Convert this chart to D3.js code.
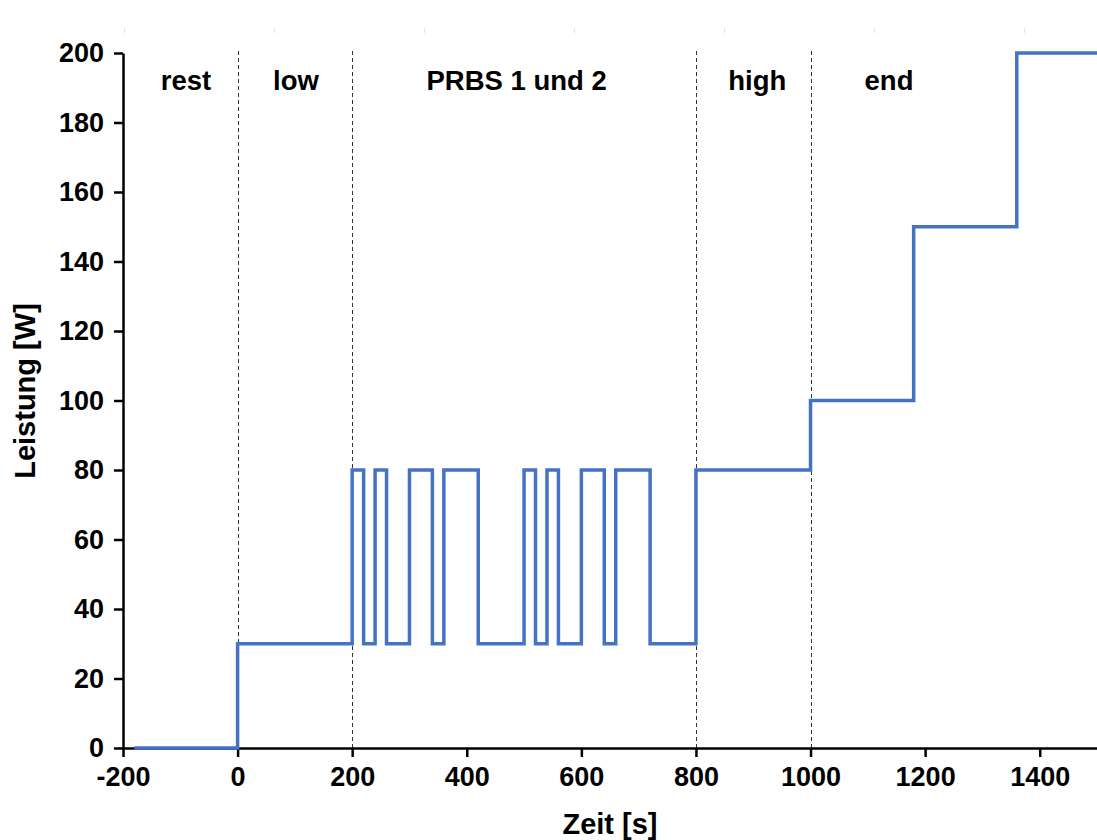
<!DOCTYPE html>
<html>
<head>
<meta charset="utf-8">
<title>Leistung über Zeit</title>
<script src="https://cdn.jsdelivr.net/npm/d3@7"></script>
<style>
  body { margin: 0; background: #fff; }
  svg { display: block; }
  text { font-family: "Liberation Sans", Arial, sans-serif; font-weight: bold; fill: #000; }
</style>
</head>
<body>
<div id="chart"></div>
<script>
// step profile: time [s] and power [W] (value holds until next time)
var timeS  = [-180, 0, 200, 220, 240, 260, 300, 340, 360, 420, 500, 520, 540, 560, 600, 640, 660, 720, 800, 1000, 1180, 1360, 1500];
var powerW = [0, 30, 80, 30, 80, 30, 80, 30, 80, 30, 80, 30, 80, 30, 80, 30, 80, 30, 80, 100, 150, 200, 200];

// phase boundaries (dashed) and phase labels
var phaseBounds = [0, 200, 800, 1000];
var phaseNames  = ["rest", "low", "PRBS 1 und 2", "high", "end"];
var phaseAt     = [-90, 102, 487, 907, 1137];

var xTicks = [-200, 0, 200, 400, 600, 800, 1000, 1200, 1400];
var yTicks = [0, 20, 40, 60, 80, 100, 120, 140, 160, 180, 200];

var W = 1097, H = 840;
var margin = {top: 53, right: 0, bottom: 92, left: 123};

var svg = d3.select("#chart").append("svg")
  .attr("width", W)
  .attr("height", H);

var x = d3.scaleLinear().domain([-200, 1500]).range([margin.left, W - margin.right]);
var y = d3.scaleLinear().domain([0, 200]).range([H - margin.bottom, margin.top]);

// faint stray marks along the top edge of the picture
svg.append("g").selectAll("line")
  .data(d3.range(7))
  .enter().append("line")
  .attr("x1", function(i) { return 124.5 + i * 150; })
  .attr("x2", function(i) { return 124.5 + i * 150; })
  .attr("y1", 28).attr("y2", 33)
  .attr("stroke", "#e2e2e2").attr("stroke-width", 1);

// dashed phase separators
svg.append("g").selectAll("line")
  .data(phaseBounds)
  .enter().append("line")
  .attr("x1", function(d) { return Math.round(x(d)) + 0.5; })
  .attr("x2", function(d) { return Math.round(x(d)) + 0.5; })
  .attr("y1", y(200) - 2)
  .attr("y2", y(0))
  .attr("stroke", "#333")
  .attr("stroke-width", 1)
  .attr("stroke-dasharray", "4,3");

// phase labels
svg.append("g").selectAll("text")
  .data(phaseNames)
  .enter().append("text")
  .attr("x", function(d, i) { return x(phaseAt[i]); })
  .attr("y", 90)
  .attr("text-anchor", "middle")
  .style("font-size", "27.5px")
  .text(function(d) { return d; });

// axes
var xAxis = d3.axisBottom(x).tickValues(xTicks).tickFormat(function(d) { return String(d); })
  .tickSize(9).tickSizeOuter(0).tickPadding(10);
var yAxis = d3.axisLeft(y).tickValues(yTicks).tickFormat(function(d) { return String(d); })
  .tickSize(9).tickSizeOuter(0).tickPadding(10);

var gx = svg.append("g")
  .attr("transform", "translate(0," + y(0) + ")")
  .call(xAxis);
var gy = svg.append("g")
  .attr("transform", "translate(" + x(-200) + ",0)")
  .call(yAxis);

[gx, gy].forEach(function(g) {
  g.select(".domain").attr("stroke", "#000").attr("stroke-width", 2.5);
  g.selectAll(".tick line").attr("stroke", "#000").attr("stroke-width", 2.5);
  g.selectAll(".tick text").style("font-size", "27px").attr("fill", "#000");
});

// power profile
var line = d3.line()
  .x(function(d, i) { return x(timeS[i]); })
  .y(function(d) { return y(d); })
  .curve(d3.curveStepAfter);

svg.append("path")
  .datum(powerW)
  .attr("d", line)
  .attr("fill", "none")
  .attr("stroke", "#4472C4")
  .attr("stroke-width", 3.5);

// axis titles
svg.append("text")
  .attr("x", (x(-200) + x(1500)) / 2)
  .attr("y", 834)
  .attr("text-anchor", "middle")
  .style("font-size", "29px")
  .text("Zeit [s]");

svg.append("text")
  .attr("transform", "translate(35,391) rotate(-90)")
  .attr("text-anchor", "middle")
  .style("font-size", "29px")
  .text("Leistung [W]");
</script>
</body>
</html>
